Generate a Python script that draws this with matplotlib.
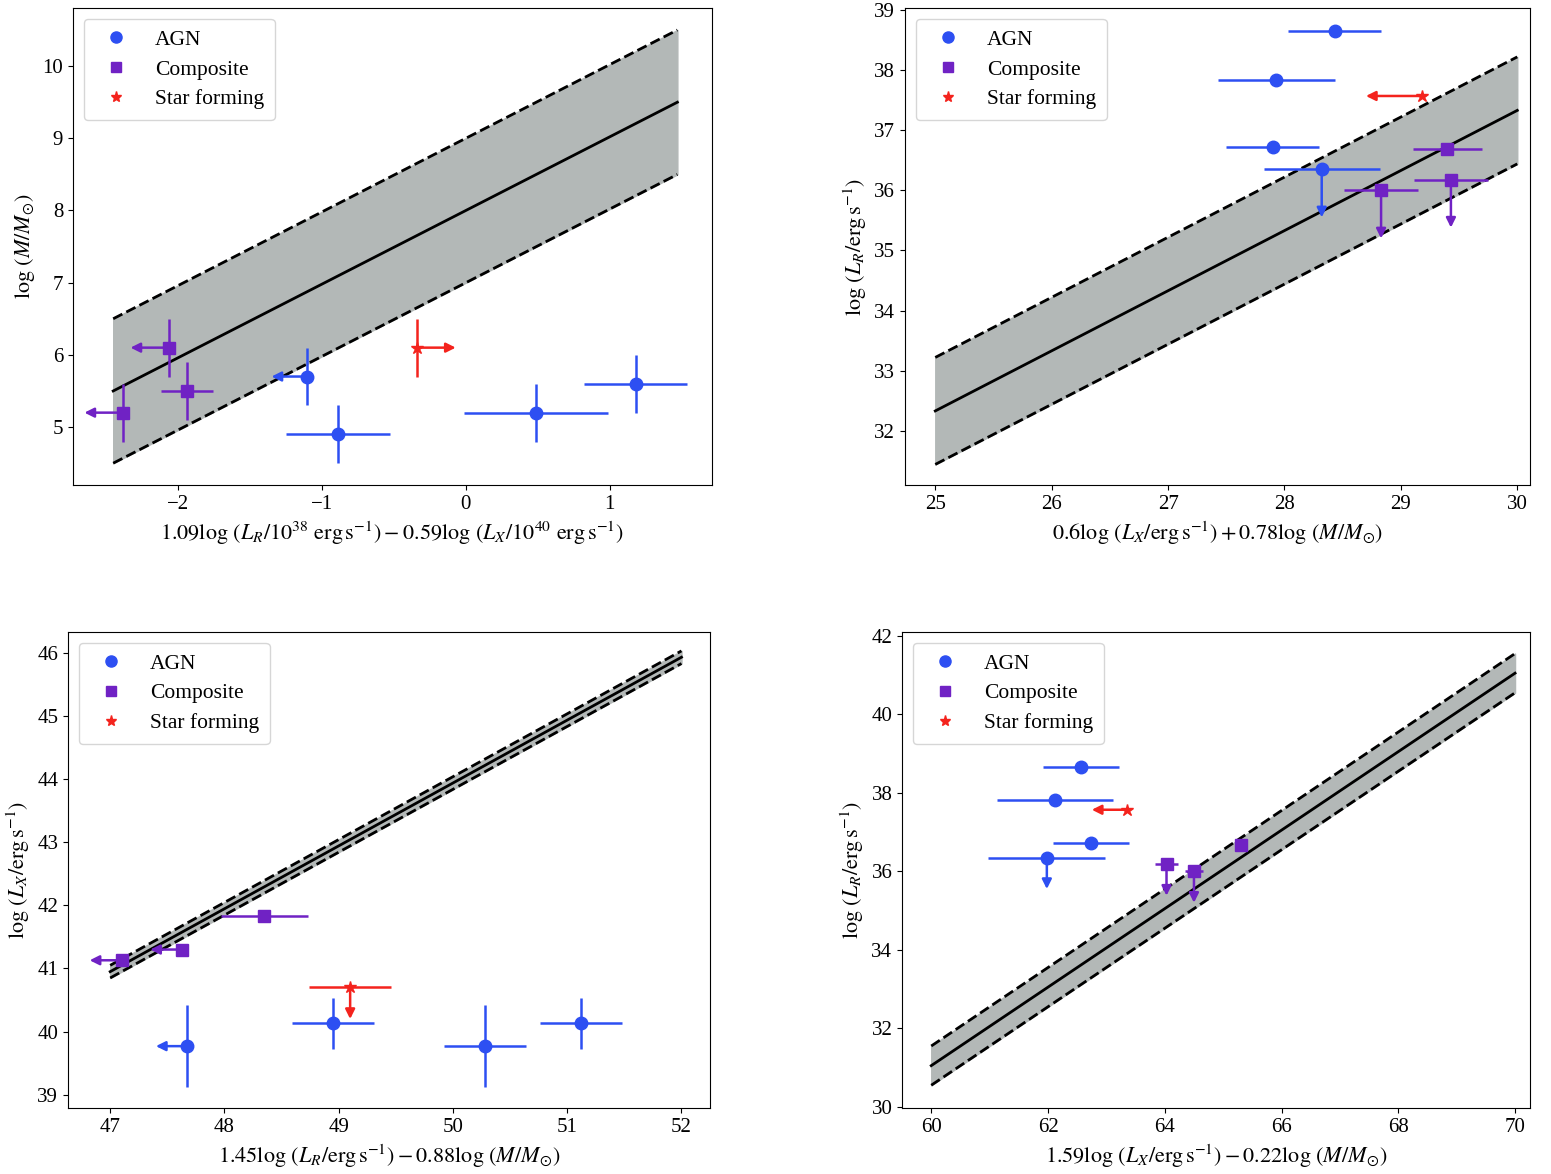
import matplotlib.pyplot as plt
from matplotlib.lines import Line2D
import numpy as np

plt.rcParams['font.family'] = ['Liberation Serif', 'DejaVu Serif']
plt.rcParams['mathtext.fontset'] = 'stix'
plt.rcParams['font.size'] = 15

C_AGN = "#2d4ff2"
C_COMP = "#7022c4"
C_SF = "#f4231d"

# ===== DATA =====
# each entry: x, y, xerr, yerr, arrow direction, arrow length
p1_agn = [(-1.1, 5.7, 0, 0.4, "left", 0.25), (-0.89, 4.9, 0.36, 0.4, None, 0),
          (0.49, 5.2, 0.5, 0.4, None, 0), (1.18, 5.6, 0.36, 0.4, None, 0)]
p1_comp = [(-2.06, 6.1, 0, 0.4, "left", 0.27), (-1.94, 5.5, 0.18, 0.4, None, 0),
           (-2.38, 5.2, 0, 0.4, "left", 0.27)]
p1_sf = [(-0.34, 6.1, 0, 0.4, "right", 0.27)]

p2_agn = [(28.43, 38.65, 0.4, 0, None, 0), (27.93, 37.83, 0.5, 0, None, 0),
          (27.9, 36.72, 0.4, 0, None, 0), (28.32, 36.35, 0.5, 0, "down", 0.8)]
p2_comp = [(29.4, 36.68, 0.3, 0, None, 0), (28.83, 36.0, 0.32, 0, "down", 0.8),
           (29.43, 36.18, 0.32, 0, "down", 0.8)]
p2_sf = [(29.18, 37.57, 0, 0, "left", 0.48)]

p3_agn = [(47.67, 39.77, 0, 0.65, "left", 0.27), (48.95, 40.13, 0.36, 0.4, None, 0),
          (50.28, 39.77, 0.36, 0.65, None, 0), (51.12, 40.13, 0.36, 0.4, None, 0)]
p3_comp = [(47.1, 41.13, 0, 0, "left", 0.28), (47.63, 41.3, 0, 0, "left", 0.28),
           (48.35, 41.83, 0.38, 0, None, 0)]
p3_sf = [(49.1, 40.7, 0.36, 0, "down", 0.5)]

p4_agn = [(62.57, 38.65, 0.65, 0, None, 0), (62.12, 37.83, 1.0, 0, None, 0),
          (62.73, 36.72, 0.65, 0, None, 0), (61.98, 36.35, 1.0, 0, "down", 0.8)]
p4_comp = [(65.3, 36.68, 0.05, 0, None, 0), (64.03, 36.18, 0.2, 0, "down", 0.8),
           (64.5, 36.0, 0.15, 0, "down", 0.8)]
p4_sf = [(63.35, 37.57, 0, 0, "left", 0.6)]

# fit lines: x range, intercept at x0, slope, band half-width
fits = [((-2.45, 1.47), 5.5, 1.02, 1.0),
        ((25, 30), 32.33, 1.0, 0.89),
        ((47, 52), 40.95, 0.996, 0.1),
        ((60, 70), 31.05, 1.0, 0.5)]

xlabels = [r"$1.09\log\,(L_R/10^{38}\ \mathrm{erg\,s^{-1}}) - 0.59\log\,(L_X/10^{40}\ \mathrm{erg\,s^{-1}})$",
           r"$0.6\log\,(L_X/\mathrm{erg\,s^{-1}}) + 0.78\log\,(M/M_{\odot})$",
           r"$1.45\log\,(L_R/\mathrm{erg\,s^{-1}}) - 0.88\log\,(M/M_{\odot})$",
           r"$1.59\log\,(L_X/\mathrm{erg\,s^{-1}}) - 0.22\log\,(M/M_{\odot})$"]
ylabels = [r"$\log\,(M/M_{\odot})$", r"$\log\,(L_R/\mathrm{erg\,s^{-1}})$",
           r"$\log\,(L_X/\mathrm{erg\,s^{-1}})$", r"$\log\,(L_R/\mathrm{erg\,s^{-1}})$"]
xlims = [(-2.73, 1.71), (24.74, 30.11), (46.63, 52.25), (59.5, 70.26)]
ylims = [(4.2, 10.8), (31.1, 39.03), (38.79, 46.33), (29.97, 42.1)]
xticks = [[-2, -1, 0, 1], [25, 26, 27, 28, 29, 30], [47, 48, 49, 50, 51, 52], [60, 62, 64, 66, 68, 70]]
yticks = [[5, 6, 7, 8, 9, 10], list(range(32, 40)), list(range(39, 47)), list(range(30, 43, 2))]

positions = [[0.047, 0.587, 0.412, 0.406], [0.5835, 0.587, 0.403, 0.406],
             [0.0438, 0.0562, 0.414, 0.4055], [0.5816, 0.0562, 0.405, 0.4055]]
panels = [(p1_agn, p1_comp, p1_sf), (p2_agn, p2_comp, p2_sf),
          (p3_agn, p3_comp, p3_sf), (p4_agn, p4_comp, p4_sf)]

DIRS = {"left": (-1, 0), "right": (1, 0), "down": (0, -1), "up": (0, 1)}


def draw_group(ax, pts, color, marker, ms):
    for (x, y, xe, ye, d, ln) in pts:
        ax.errorbar(x, y, xerr=xe if xe else None, yerr=ye if ye else None,
                    fmt=marker, color=color, ms=ms, lw=1.8, capsize=0, zorder=3)
        if d:
            dx, dy = DIRS[d]
            ax.annotate("", xy=(x + dx * ln, y + dy * ln), xytext=(x, y),
                        arrowprops=dict(arrowstyle="-|>", color=color, lw=1.8,
                                        mutation_scale=14, shrinkA=0, shrinkB=0),
                        zorder=3)


handles = [Line2D([], [], ls="", marker="o", color=C_AGN, ms=8, label="AGN"),
           Line2D([], [], ls="", marker="s", color=C_COMP, ms=7, label="Composite"),
           Line2D([], [], ls="", marker="*", color=C_SF, ms=8, label="Star forming")]

fig = plt.figure(figsize=(15.51, 11.74), dpi=100)
for k in range(4):
    ax = fig.add_axes(positions[k])
    (x0, x1), b, m, w = fits[k]
    xx = np.array([x0, x1])
    yy = b + m * (xx - x0)
    ax.fill_between(xx, yy - w, yy + w, color="#b3b8b7", zorder=1)
    ax.plot(xx, yy, color="black", lw=2, zorder=2)
    ax.plot(xx, yy - w, color="black", lw=2, ls="--", zorder=2)
    ax.plot(xx, yy + w, color="black", lw=2, ls="--", zorder=2)
    agn, comp, sf = panels[k]
    draw_group(ax, agn, C_AGN, "o", 9)
    draw_group(ax, comp, C_COMP, "s", 8)
    draw_group(ax, sf, C_SF, "*", 9)
    ax.set_xlim(*xlims[k])
    ax.set_ylim(*ylims[k])
    ax.set_xticks(xticks[k])
    ax.set_yticks(yticks[k])
    ax.set_xticklabels([f"\u2212{abs(t)}" if t < 0 else str(t) for t in xticks[k]])
    ax.set_xlabel(xlabels[k], fontsize=16)
    ax.set_ylabel(ylabels[k], fontsize=16)
    ax.tick_params(labelsize=15)
    ax.legend(handles=handles, loc="upper left", fontsize=15.5, handlelength=2.0,
              borderpad=0.5, labelspacing=0.45, numpoints=1)

fig.savefig("out.png", dpi=100)
